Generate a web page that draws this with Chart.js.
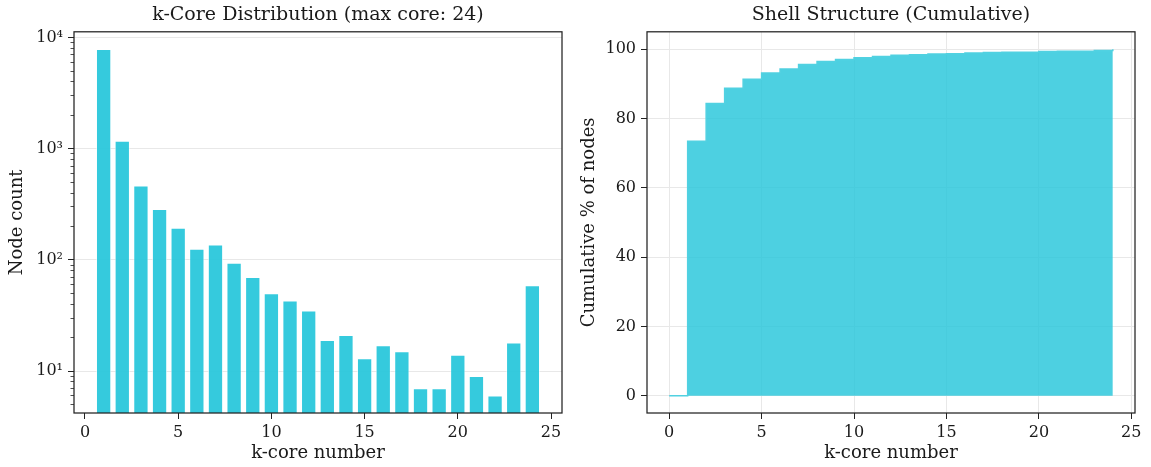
<!DOCTYPE html>
<html>
<head>
<meta charset="utf-8">
<script src="https://cdn.jsdelivr.net/npm/chart.js@4"></script>
<style>
    body { margin: 0; background: #fff; }
    #g_core { position: absolute; left: 0; top: 0; }
    #g_shell { position: absolute; left: 575px; top: 0; }
</style>
</head>
<body>
<canvas id="g_core" width="575" height="467"></canvas>
<canvas id="g_shell" width="576" height="467"></canvas>
<script>
// Données
const coreNumbers = [1, 2, 3, 4, 5, 6, 7, 8, 9, 10, 11, 12, 13, 14, 15, 16, 17, 18, 19, 20, 21, 22, 23, 24];
const nodeCounts = [7900, 1180, 466, 287, 194, 126, 137, 94, 70, 50, 43, 35, 19, 21, 13, 17, 15, 7, 7, 14, 9, 6, 18, 59];

const shellCores = [0, 1, 2, 3, 4, 5, 6, 7, 8, 9, 10, 11, 12, 13, 14, 15, 16, 17, 18, 19, 20, 21, 22, 23, 24];
const cumulativePct = [0, 73.4, 84.3, 88.7, 91.3, 93.1, 94.3, 95.6, 96.4, 97.0, 97.5, 97.9, 98.2, 98.4, 98.6, 98.7, 98.9, 99.0, 99.1, 99.1, 99.3, 99.4, 99.4, 99.6, 100];

const xTickValues = [0, 5, 10, 15, 20, 25];
const logMajorTicks = [10, 100, 1000, 10000];
const pctTickValues = [0, 20, 40, 60, 80, 100];

const FONT = 'DejaVu Serif';
const TEXT = '#1a1a1a';
const GRID = '#e8e8e8';

// minor ticks du log (2..9 x 10^n)
let logTicks = [];
for (let e = 0; e <= 3; e++) {
    for (let m = 1; m <= 9; m++) {
        let v = m * Math.pow(10, e);
        if (v >= 4.2 && v <= 11300) logTicks.push(v);
    }
}
logTicks.push(10000);

function isMajor(v) {
    return logMajorTicks.indexOf(v) >= 0;
}

function superscript(n) {
    const sup = { '0': '⁰', '1': '¹', '2': '²', '3': '³', '4': '⁴', '5': '⁵', '6': '⁶', '7': '⁷', '8': '⁸', '9': '⁹' };
    return String(n).split('').map(c => sup[c]).join('');
}

// cadre autour de la zone de tracé
const frame = {
    id: 'frame',
    afterDatasetsDraw(chart) {
        const a = chart.chartArea;
        const ctx = chart.ctx;
        ctx.save();
        ctx.strokeStyle = '#222';
        ctx.lineWidth = 1.25;
        ctx.strokeRect(a.left, a.top, a.right - a.left, a.bottom - a.top);
        ctx.restore();
    }
};

const tickFont = { family: FONT, size: 16 };
const labelFont = { family: FONT, size: 18 };
const titleFont = { family: FONT, size: 19, weight: 'normal' };
const TICK_LEN = 6;

function coreChart() {
    const context = document.getElementById('g_core').getContext('2d');

    let values = [];
    for (let i = 0; i < coreNumbers.length; i++) {
        values.push({ x: coreNumbers[i], y: nodeCounts[i] });
    }

    let config = {
        type: 'bar',
        data: {
            datasets: [{
                data: values,
                backgroundColor: 'rgba(38,198,218,0.93)',
                borderColor: 'rgba(255,255,255,0.8)',
                borderWidth: 0.8,
                borderSkipped: 'start',
                barPercentage: 0.8,
                categoryPercentage: 1
            }]
        },
        options: {
            responsive: false,
            animation: false,
            devicePixelRatio: 1,
            layout: { padding: { left: 0, right: 13, top: 0, bottom: 0 } },
            plugins: {
                legend: { display: false },
                tooltip: { enabled: false },
                title: {
                    display: true,
                    fullSize: false,
                    text: 'k-Core Distribution (max core: 24)',
                    color: TEXT,
                    font: titleFont,
                    padding: { top: 4, bottom: 5 }
                }
            },
            scales: {
                x: {
                    type: 'linear',
                    min: -0.59,
                    max: 25.59,
                    offset: false,
                    afterBuildTicks: s => { s.ticks = xTickValues.map(v => ({ value: v })); },
                    afterFit: s => { s.height = 54; },
                    grid: { offset: false, drawOnChartArea: false, tickLength: TICK_LEN, tickColor: '#222' },
                    border: { display: false },
                    ticks: { color: TEXT, font: tickFont, padding: 4, autoSkip: false, maxRotation: 0 },
                    title: { display: true, text: 'k-core number', color: TEXT, font: labelFont, padding: { top: 0, bottom: 3 } }
                },
                y: {
                    type: 'logarithmic',
                    min: 4.2,
                    max: 11300,
                    afterBuildTicks: s => { s.ticks = logTicks.map(v => ({ value: v })); },
                    afterFit: s => { s.width = 74; },
                    grid: {
                        color: c => (c.tick && isMajor(c.tick.value)) ? GRID : 'rgba(0,0,0,0)',
                        tickColor: '#222',
                        tickWidth: c => (c.tick && isMajor(c.tick.value)) ? 1 : 0.8,
                        // petits ticks pour les mineurs : seule la partie proche de l'axe
                        tickBorderDash: c => (c.tick && isMajor(c.tick.value)) ? [] : [0, 2.5, 3.5, 20],
                        tickLength: TICK_LEN
                    },
                    border: { display: false },
                    ticks: {
                        color: TEXT,
                        font: tickFont,
                        padding: 5,
                        autoSkip: false,
                        callback: v => isMajor(v) ? '10' + superscript(Math.round(Math.log10(v))) : ''
                    },
                    title: { display: true, text: 'Node count', color: TEXT, font: labelFont, padding: { top: 7, bottom: 0 } }
                }
            }
        },
        plugins: [frame]
    };

    new Chart(context, config);
}

function shellChart() {
    const context = document.getElementById('g_shell').getContext('2d');

    let points = [];
    for (let i = 0; i < shellCores.length; i++) {
        points.push({ x: shellCores[i], y: cumulativePct[i] });
    }

    let config = {
        type: 'line',
        data: {
            datasets: [{
                data: points,
                stepped: 'before',
                fill: 'origin',
                backgroundColor: 'rgba(38,198,218,0.82)',
                borderColor: 'rgb(81,209,225)',
                borderWidth: 1.5,
                pointRadius: 0
            }]
        },
        options: {
            responsive: false,
            animation: false,
            devicePixelRatio: 1,
            layout: { padding: { left: 0, right: 16, top: 0, bottom: 0 } },
            plugins: {
                legend: { display: false },
                tooltip: { enabled: false },
                title: {
                    display: true,
                    fullSize: false,
                    text: 'Shell Structure (Cumulative)',
                    color: TEXT,
                    font: titleFont,
                    padding: { top: 4, bottom: 5 }
                }
            },
            scales: {
                x: {
                    type: 'linear',
                    min: -1.2,
                    max: 25.2,
                    afterBuildTicks: s => { s.ticks = xTickValues.map(v => ({ value: v })); },
                    afterFit: s => { s.height = 54; },
                    grid: { color: GRID, tickColor: '#222', tickLength: TICK_LEN },
                    border: { display: false },
                    ticks: { color: TEXT, font: tickFont, padding: 4, autoSkip: false, maxRotation: 0 },
                    title: { display: true, text: 'k-core number', color: TEXT, font: labelFont, padding: { top: 0, bottom: 3 } }
                },
                y: {
                    type: 'linear',
                    min: -5,
                    max: 105,
                    afterBuildTicks: s => { s.ticks = pctTickValues.map(v => ({ value: v })); },
                    afterFit: s => { s.width = 72; },
                    grid: { color: GRID, tickColor: '#222', tickLength: TICK_LEN },
                    border: { display: false },
                    ticks: { color: TEXT, font: tickFont, padding: 5, autoSkip: false },
                    title: { display: true, text: 'Cumulative % of nodes', color: TEXT, font: labelFont, padding: { top: 4, bottom: 0 } }
                }
            }
        },
        plugins: [frame]
    };

    new Chart(context, config);
}

window.addEventListener('load', () => {
    coreChart();
    shellChart();
});
</script>
</body>
</html>
